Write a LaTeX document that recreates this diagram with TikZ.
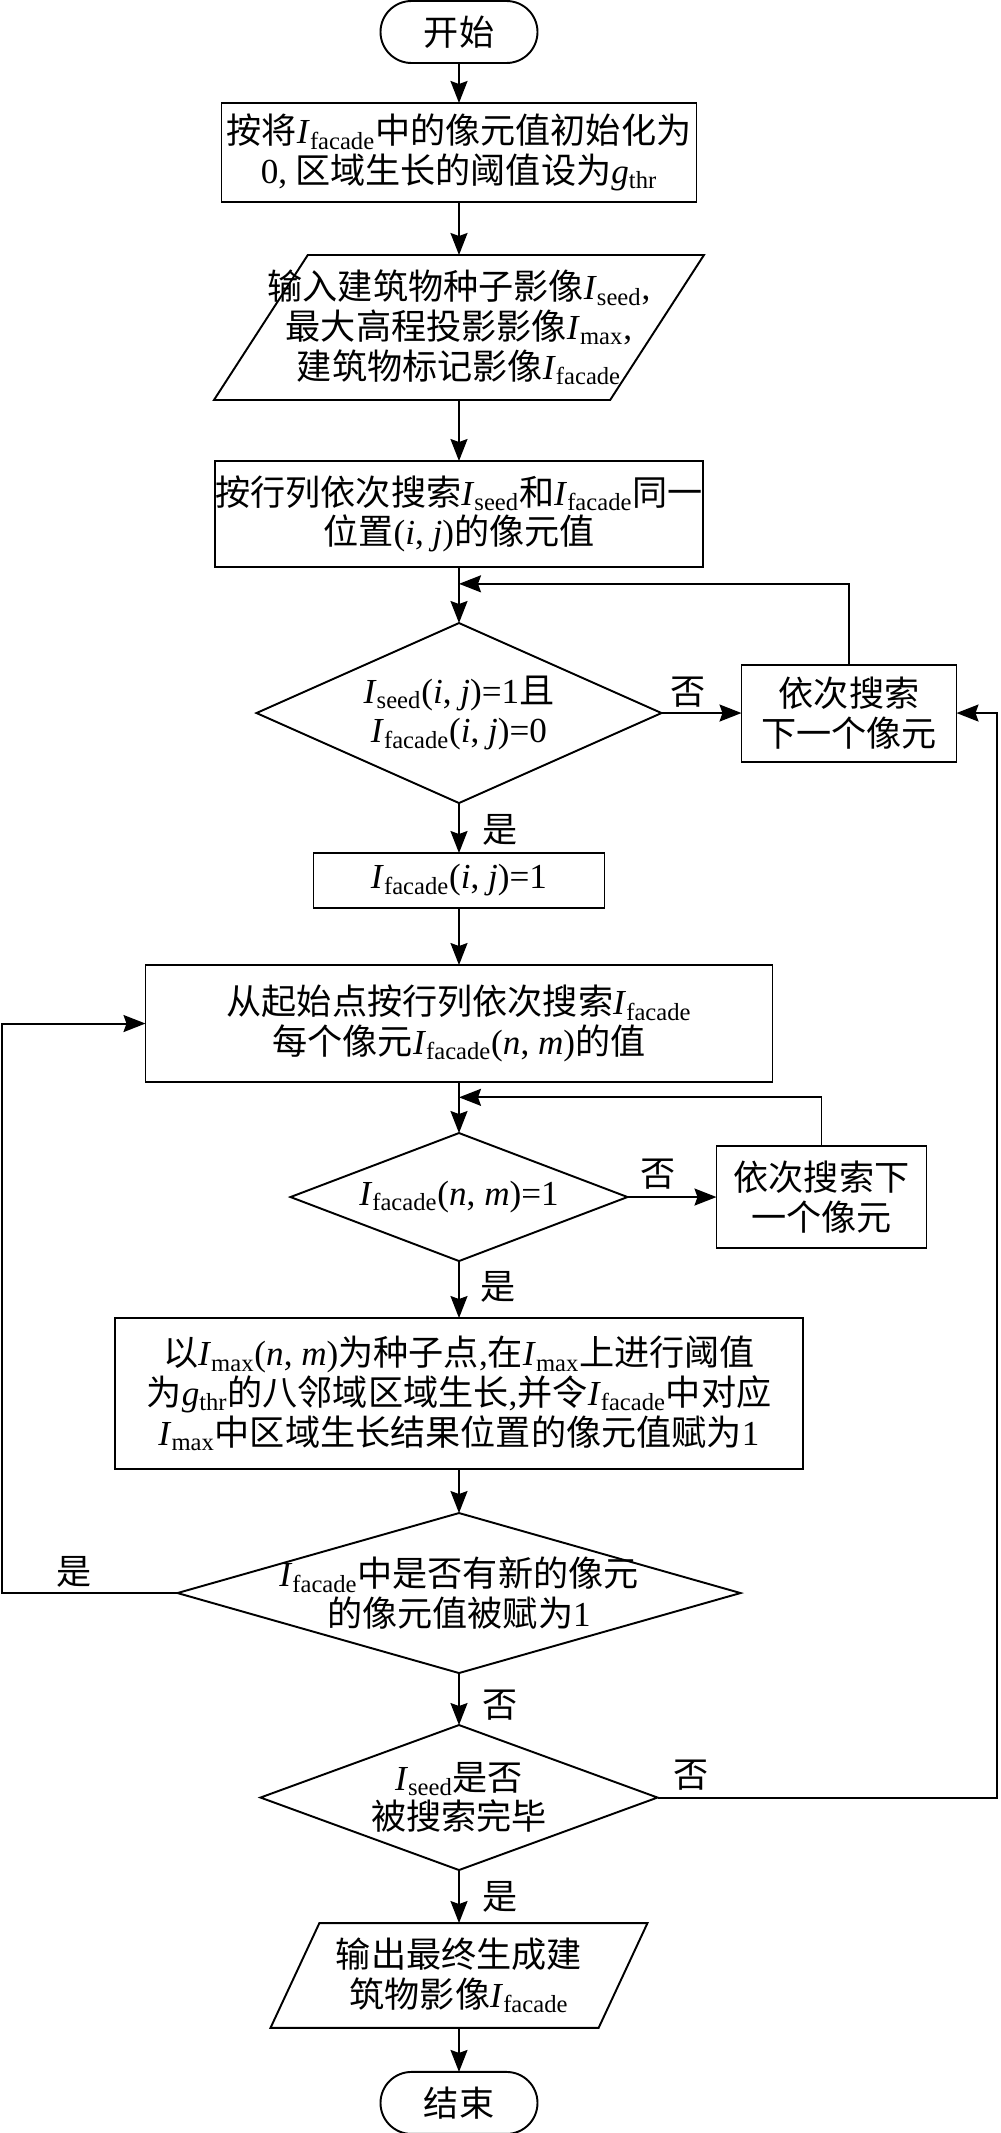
\documentclass[tikz,border=0pt]{standalone}
\usepackage{fontspec}
\setmainfont{Liberation Serif}
\newfontfamily\cjk{Noto Sans CJK SC}
\usetikzlibrary{shapes.geometric, arrows.meta, positioning, calc}

\newcommand{\rmtxt}[1]{{\rmfamily #1}}
\newcommand{\imgI}[1]{{\rmfamily\textit{I}\textsubscript{#1}}}
\newcommand{\gthr}{{\rmfamily\textit{g}\textsubscript{thr}}}
\newcommand{\posij}{{\rmfamily(\textit{i}, \textit{j})}}
\newcommand{\posnm}{{\rmfamily(\textit{n}, \textit{m})}}

\begin{document}
\begin{tikzpicture}[
    >={Stealth[length=0.44cm, width=0.34cm, inset=0.06cm]},
    line width=1.1pt,
    font=\cjk\fontsize{20pt}{22.5pt}\selectfont,
    every node/.style={outer sep=0pt},
    terminal/.style={rectangle, draw, rounded corners=0.62cm, minimum width=3.14cm, minimum height=1.24cm, inner sep=0pt},
    process/.style={rectangle, draw, align=center, inner sep=0pt},
    io/.style={trapezium, trapezium stretches body, draw, align=center, inner xsep=-1cm, inner ysep=0.3cm},
    decision/.style={diamond, draw, align=center, inner sep=-4cm},
    tag/.style={inner sep=0pt}
]
\useasboundingbox (0,0) rectangle (20,-42.66);

% Main column
\node[terminal] (start) at (9.18,-0.64) {开始};
\node[process, minimum width=9.5cm, minimum height=1.98cm, below=0.8cm of start] (init) {按将\imgI{facade}中的像元值初始化为\\\rmtxt{0,} 区域生长的阈值设为\gthr};
\node[io, trapezium left angle=57, trapezium right angle=123, minimum width=9.8cm, minimum height=2.9cm, below=1.06cm of init] (input) {输入建筑物种子影像\imgI{seed}\rmtxt{,}\\最大高程投影影像\imgI{max}\rmtxt{,}\\建筑物标记影像\imgI{facade}};
\node[process, minimum width=9.7cm, minimum height=2.12cm, below=1.22cm of input] (scan) {按行列依次搜索\imgI{seed}和\imgI{facade}同一\\位置\posij 的像元值};
\node[decision, minimum width=8.1cm, minimum height=3.6cm, below=1.12cm of scan] (seedchk) {\imgI{seed}\posij\rmtxt{=1}且\\\imgI{facade}\posij\rmtxt{=0}};
\node[process, minimum width=5.82cm, minimum height=1.1cm, below=1.0cm of seedchk] (mark) {\imgI{facade}\posij\rmtxt{=1}};
\node[process, minimum width=12.54cm, minimum height=2.34cm, below=1.14cm of mark] (search) {从起始点按行列依次搜索\imgI{facade}\\每个像元\imgI{facade}\posnm 的值};
\node[decision, minimum width=6.74cm, minimum height=2.56cm, below=1.02cm of search] (markchk) {\imgI{facade}\posnm\rmtxt{=1}};
\node[process, minimum width=13.76cm, minimum height=3.02cm, below=1.14cm of markchk] (grow) {以\imgI{max}\posnm 为种子点\rmtxt{,}在\imgI{max}上进行阈值\\为\gthr 的八邻域区域生长\rmtxt{,}并令\imgI{facade}中对应\\\imgI{max}中区域生长结果位置的像元值赋为\rmtxt{1}};
\node[decision, minimum width=11.26cm, minimum height=3.2cm, below=0.88cm of grow] (newchk) {\imgI{facade}中是否有新的像元\\的像元值被赋为\rmtxt{1}};
\node[decision, minimum width=7.94cm, minimum height=2.9cm, below=1.04cm of newchk] (donechk) {\imgI{seed}是否\\被搜索完毕};
\node[io, trapezium left angle=65, trapezium right angle=115, minimum width=7.54cm, minimum height=2.02cm, below=1.06cm of donechk] (output) {输出最终生成建\\筑物影像\imgI{facade}};
\node[terminal, below=0.88cm of output] (stop) {结束};

% Side boxes
\node[process, minimum width=4.3cm, minimum height=1.94cm, right=1.6cm of seedchk] (next1) {依次搜索\\下一个像元};
\node[process, minimum width=4.2cm, minimum height=2.04cm, right=1.78cm of markchk] (next2) {依次搜索下\\一个像元};

% Helper points
\coordinate (lrail) at (0.04,0);
\coordinate (rrail) at (19.94,0);
\coordinate (join1) at ($(scan.south)!0.3!(seedchk.north)$);
\coordinate (join2) at ($(search.south)!0.3!(markchk.north)$);

% Connectors
\draw[->] (start) -- (init);
\draw[->] (init) -- (input);
\draw[->] (input) -- (scan);
\draw[->] (scan) -- (seedchk);
\draw[->] (seedchk) -- node[tag, pos=0.33, above=0.11cm] {否} (next1);
\draw[->] (next1.north) |- (join1);
\draw[->] (seedchk) -- node[tag, pos=0.54, right=0.47cm] {是} (mark);
\draw[->] (mark) -- (search);
\draw[->] (search) -- (markchk);
\draw[->] (markchk) -- node[tag, pos=0.34, above=0.15cm] {否} (next2);
\draw[->] (next2.north) |- (join2);
\draw[->] (markchk) -- node[tag, pos=0.46, right=0.43cm] {是} (grow);
\draw[->] (grow) -- (newchk);
\draw[->] (newchk.west) -- node[tag, pos=0.59, above=0.11cm] {是} (newchk.west -| lrail) |- (search.west);
\draw[->] (newchk) -- node[tag, pos=0.62, right=0.47cm] {否} (donechk);
\draw[->] (donechk.east) -- node[tag, pos=0.1, above=0.15cm] {否} (donechk.east -| rrail) |- (next1.east);
\draw[->] (donechk) -- node[tag, pos=0.51, right=0.47cm] {是} (output);
\draw[->] (output) -- (stop);

\end{tikzpicture}
\end{document}
